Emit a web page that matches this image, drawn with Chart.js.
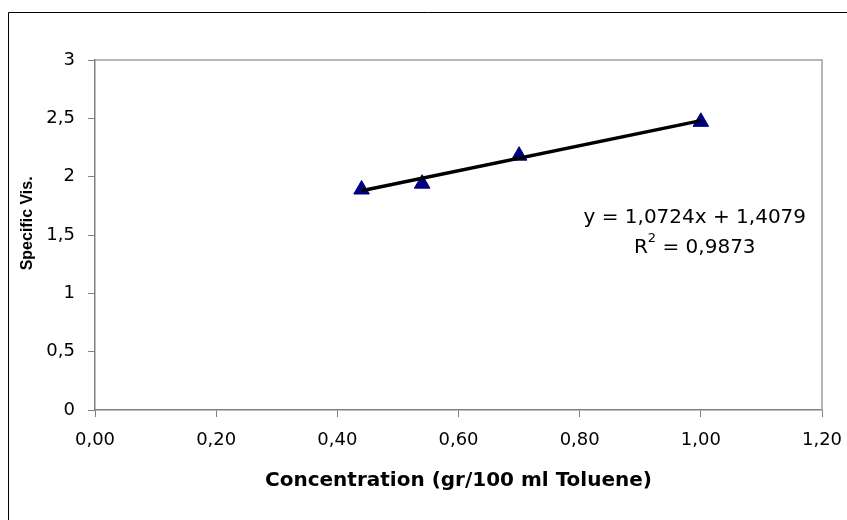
<!DOCTYPE html>
<html>
<head>
<meta charset="utf-8">
<script src="https://cdn.jsdelivr.net/npm/chart.js@4"></script>
<style>
    html, body { margin: 0; padding: 0; background: #fff; }
    #wrap { width: 847px; height: 520px; }
</style>
</head>
<body>
<div id="wrap"><canvas id="viscChart" width="847" height="520"></canvas></div>
<script>
/* global Chart */

const concentration = [0.44, 0.54, 0.70, 1.00];
const specificVis = [1.89, 1.94, 2.18, 2.47];
const trendSlope = 1.0724;
const trendIntercept = 1.4079;
const equationText = 'y = 1,0724x + 1,4079';
const rSquaredText = '0,9873';
const yAxisTitle = 'Specific Vis.';

const FONT = '"DejaVu Sans", "Liberation Sans", Arial, sans-serif';
const ARIAL = '"Liberation Sans", Arial, sans-serif';

function commaNumber(value, digits) {
    return Number(value).toFixed(digits).replace('.', ',');
}

function trendPoints() {
    const xMin = Math.min(...concentration);
    const xMax = Math.max(...concentration);
    return [xMin, xMax].map(x => ({ x, y: trendSlope * x + trendIntercept }));
}

// outer frame (only left/top show in the original crop), plot box, y title, equation
const decorPlugin = {
    id: 'decor',
    beforeDraw(chart) {
        const ctx = chart.ctx;
        ctx.save();
        ctx.strokeStyle = '#000';
        ctx.lineWidth = 1;
        ctx.beginPath();
        ctx.moveTo(8.5, chart.height);
        ctx.lineTo(8.5, 12.5);
        ctx.lineTo(chart.width, 12.5);
        ctx.stroke();
        ctx.restore();
    },
    afterDraw(chart) {
        const { ctx, chartArea, scales } = chart;
        ctx.save();
        ctx.strokeStyle = '#a0a0a0';
        ctx.lineWidth = 1.5;
        ctx.beginPath();
        ctx.moveTo(chartArea.left, chartArea.top);
        ctx.lineTo(chartArea.right, chartArea.top);
        ctx.lineTo(chartArea.right, chartArea.bottom);
        ctx.stroke();

        // y axis title, a little above the axis middle as in the original
        ctx.save();
        ctx.translate(28, scales.y.getPixelForValue(1.6));
        ctx.rotate(-Math.PI / 2);
        ctx.fillStyle = '#000';
        ctx.font = 'bold 16px ' + ARIAL;
        ctx.textAlign = 'center';
        ctx.textBaseline = 'middle';
        ctx.fillText(yAxisTitle, 0, 0);
        ctx.restore();

        const cx = scales.x.getPixelForValue(0.99);
        const y1 = scales.y.getPixelForValue(1.645);
        const y2 = scales.y.getPixelForValue(1.39);
        ctx.fillStyle = '#000';
        ctx.textBaseline = 'middle';
        ctx.textAlign = 'center';
        ctx.font = '20px ' + FONT;
        ctx.fillText(equationText, cx, y1);

        const rest = ' = ' + rSquaredText;
        const wR = ctx.measureText('R').width;
        const wRest = ctx.measureText(rest).width;
        ctx.font = '13px ' + FONT;
        const wSup = ctx.measureText('2').width;
        let x = cx - (wR + wSup + wRest) / 2;
        ctx.textAlign = 'left';
        ctx.font = '20px ' + FONT;
        ctx.fillText('R', x, y2);
        x += wR;
        ctx.font = '13px ' + FONT;
        ctx.fillText('2', x, y2 - 9);
        x += wSup;
        ctx.font = '20px ' + FONT;
        ctx.fillText(rest, x, y2);
        ctx.restore();
    }
};

new Chart(document.getElementById('viscChart'), {
    type: 'scatter',
    data: {
        datasets: [
            {
                label: 'Trend',
                type: 'line',
                data: trendPoints(),
                borderColor: '#000',
                borderWidth: 3.5,
                pointRadius: 0,
                fill: false,
                order: 0
            },
            {
                label: 'Specific Vis.',
                data: concentration.map((x, i) => ({ x, y: specificVis[i] })),
                pointStyle: 'triangle',
                pointRadius: 9,
                pointBackgroundColor: '#000080',
                pointBorderColor: '#000080',
                pointBorderWidth: 1,
                order: 1
            }
        ]
    },
    options: {
        responsive: false,
        animation: false,
        layout: {
            padding: { left: 20, top: 60, right: 25, bottom: 23 }
        },
        plugins: {
            legend: { display: false },
            tooltip: { enabled: false }
        },
        scales: {
            x: {
                type: 'linear',
                min: 0,
                max: 1.2,
                afterFit: scale => {
                    scale.height = 87;
                    scale.paddingLeft = 0;
                    scale.paddingRight = 0;
                },
                grid: {
                    drawOnChartArea: false,
                    drawTicks: true,
                    tickLength: 7,
                    color: '#808080'
                },
                border: { color: '#808080', width: 1.5 },
                ticks: {
                    stepSize: 0.2,
                    padding: 13,
                    color: '#000',
                    font: { family: FONT, size: 18 },
                    callback: value => commaNumber(value, 2)
                },
                title: {
                    display: true,
                    text: 'Concentration (gr/100 ml Toluene)',
                    color: '#000',
                    font: { family: FONT, size: 20, weight: 'bold' }
                }
            },
            y: {
                min: 0,
                max: 3,
                afterFit: scale => {
                    scale.width = 75;
                    scale.paddingTop = 0;
                    scale.paddingBottom = 0;
                },
                grid: {
                    drawOnChartArea: false,
                    drawTicks: true,
                    tickLength: 7,
                    color: '#808080'
                },
                border: { color: '#808080', width: 1.5 },
                ticks: {
                    stepSize: 0.5,
                    padding: 13,
                    color: '#000',
                    font: { family: FONT, size: 18 },
                    callback: value => String(value).replace('.', ',')
                }
            }
        }
    },
    plugins: [decorPlugin]
});
</script>
</body>
</html>
